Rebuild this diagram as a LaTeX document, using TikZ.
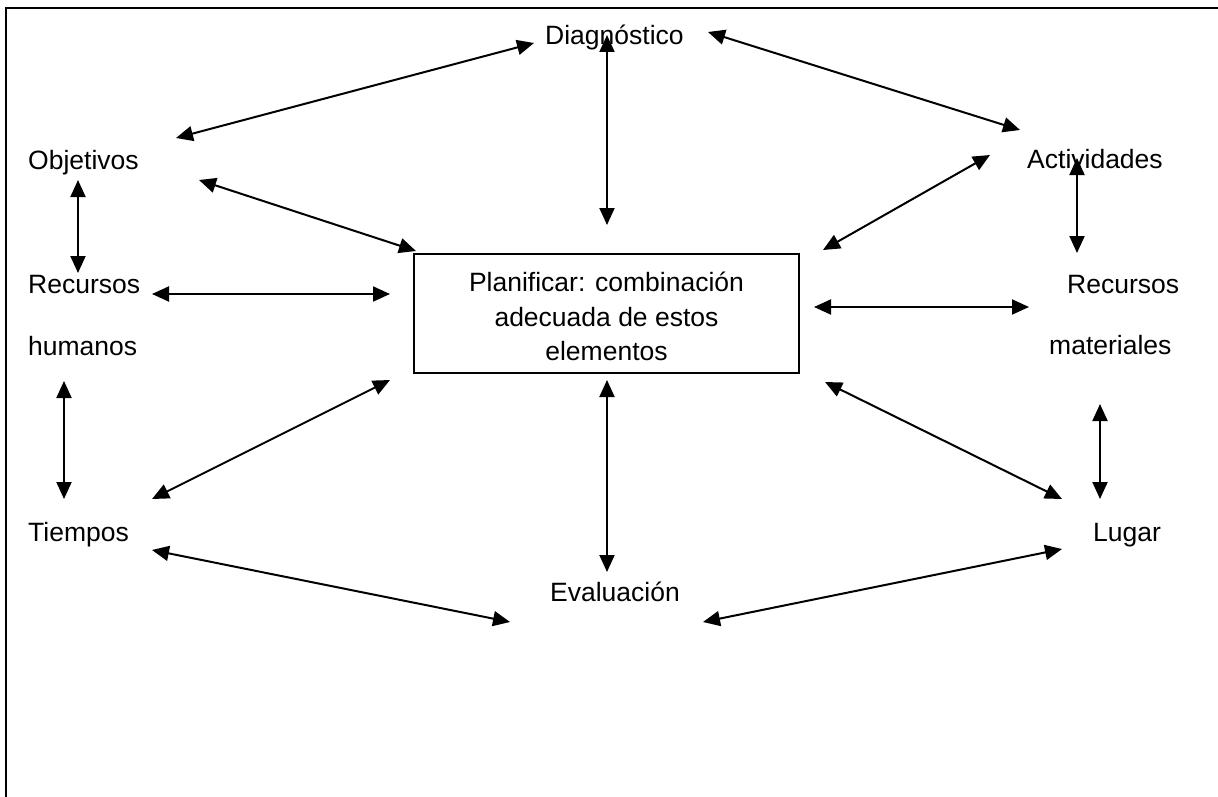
\documentclass[tikz,border=0pt]{standalone}
\usepackage{fontspec}
\setmainfont{Liberation Sans}
\usetikzlibrary{arrows.meta}
\tikzset{
  lbl/.style={anchor=base west, inner sep=0pt, font=\fontsize{26.5}{34}\selectfont},
  dbl/.style={line width=2pt, {Triangle[length=17pt,width=15pt]}-{Triangle[length=17pt,width=15pt]}},
  planbox/.style={draw, line width=1.5pt, minimum width=385pt, minimum height=119pt, inner sep=0pt},
  plantext/.style={inner sep=0pt, align=center, font=\fontsize{26.5}{34.5}\selectfont},
  frame/.style={line width=1.5pt}
}
\begin{document}
\begin{tikzpicture}[x=1pt,y=-1pt]
\useasboundingbox (0,0) rectangle (1218,797);
% frame
\coordinate (fbl) at (6,797);
\coordinate (ftl) at (6,8);
\coordinate (ftr) at (1218,8);
\draw[frame] (fbl) -- (ftl) -- (ftr);
% labels
\node[lbl] (diag) at (545,45) {Diagnóstico};
\node[lbl] (obj) at (28,169) {Objetivos};
\node[lbl] (act) at (1027,168) {Actividades};
\node[lbl] (rech) at (28,293) {Recursos};
\node[lbl] (hum) at (28,355) {humanos};
\node[lbl] (recm) at (1067,293) {Recursos};
\node[lbl] (mat) at (1049,354) {materiales};
\node[lbl] (tie) at (28,541) {Tiempos};
\node[lbl] (lug) at (1093,541) {Lugar};
\node[lbl] (eva) at (550,601) {Evaluación};
\node[planbox] (plan) at (606.5,313.5) {};
\node[plantext] (plantxt) at (606.5,316.5) {Planificar: combinación\\adecuada de estos\\elementos};
% arrow ends
\coordinate (a1a) at (534,43);  \coordinate (a1b) at (176,138);
\coordinate (a2a) at (607,35);  \coordinate (a2b) at (607,225);
\coordinate (a3a) at (708,32);  \coordinate (a3b) at (1020,130);
\coordinate (a4a) at (199,180); \coordinate (a4b) at (416,251);
\coordinate (a5a) at (78,180);  \coordinate (a5b) at (78,273);
\coordinate (a6a) at (152,294); \coordinate (a6b) at (390,294);
\coordinate (a7a) at (990,155); \coordinate (a7b) at (823,250);
\coordinate (a8a) at (1077,158);\coordinate (a8b) at (1077,253);
\coordinate (a9a) at (814,307); \coordinate (a9b) at (1029,307);
\coordinate (a10a) at (64,381); \coordinate (a10b) at (64,499);
\coordinate (a11a) at (152,499);\coordinate (a11b) at (390,380);
\coordinate (a12a) at (607,380);\coordinate (a12b) at (607,572);
\coordinate (a13a) at (825,382);\coordinate (a13b) at (1062,499);
\coordinate (a14a) at (1100,404);\coordinate (a14b) at (1100,499);
\coordinate (a15a) at (152,550);\coordinate (a15b) at (510,622);
\coordinate (a16a) at (703,622);\coordinate (a16b) at (1062,549);
\foreach \i in {1,...,16}{\draw[dbl] (a\i a) -- (a\i b);}
\end{tikzpicture}
\end{document}
